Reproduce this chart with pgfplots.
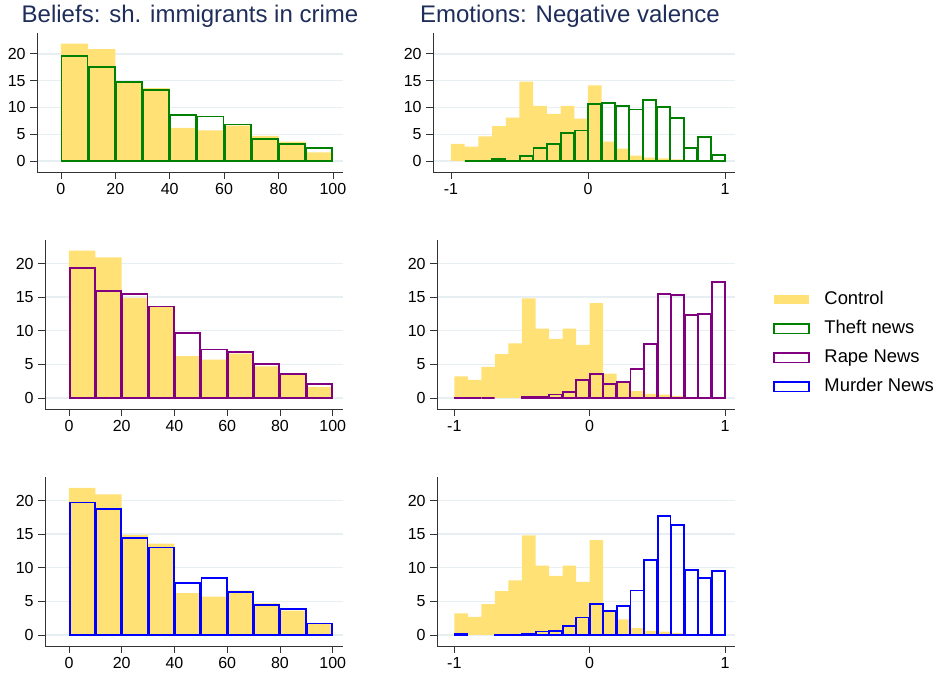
\documentclass[border=0pt]{standalone}
\usepackage{fontspec}
\setmainfont{Liberation Sans}
\usepackage{pgfplots}
\pgfplotsset{compat=1.18}
\usepackage{pgfplotstable}

\definecolor{ctrl}{RGB}{255,225,117}
\definecolor{theft}{RGB}{0,128,0}
\definecolor{rape}{RGB}{128,0,128}
\definecolor{murder}{RGB}{0,0,255}
\definecolor{gridc}{RGB}{232,239,243}
\definecolor{titlec}{RGB}{30,45,90}

% beliefs: share of immigrants in crime, bins of 10
\pgfplotstableread{
x  ctrl theft rape murder
5  21.9 19.6 19.3 19.7
15 20.9 17.6 15.9 18.7
25 14.9 14.7 15.4 14.4
35 13.6 13.3 13.6 13.0
45 6.2  8.6  9.6  7.7
55 5.7  8.3  7.2  8.5
65 6.6  6.8  6.8  6.4
75 4.7  4.1  5.1  4.4
85 3.6  3.2  3.6  3.9
95 1.6  2.4  2.1  1.7
}\lefttab

% emotions: negative valence, bins of 0.1
\pgfplotstableread{
x     ctrl theft rape murder
-0.95 3.2  nan   0.05 0.1
-0.85 2.7  0     0    nan
-0.75 4.6  0.05  0    nan
-0.65 6.5  0.3   nan  0.05
-0.55 8.1  0.05  nan  0
-0.45 14.8 1.0   0.1  0.2
-0.35 10.3 2.4   0.1  0.5
-0.25 8.8  3.2   0.5  0.6
-0.15 10.3 5.3   0.85 1.3
-0.05 7.9  5.7   2.7  2.6
0.05  14.1 10.7  3.6  4.6
0.15  3.6  10.9  2.1  3.6
0.25  2.3  10.2  2.4  4.3
0.35  1.0  9.6   4.3  6.6
0.45  0.6  11.4  8.0  11.2
0.55  0.5  10.1  15.4 17.7
0.65  0.3  8.1   15.3 16.4
0.75  0.05 2.5   12.3 9.6
0.85  nan  4.5   12.5 8.5
0.95  nan  1.1   17.2 9.5
}\righttab

\pgfplotsset{
  panel/.style={
    scale only axis,
    axis x line*=bottom, axis y line*=left,
    axis line style={black!80, line width=0.6pt},
    tick align=outside, major tick length=5pt,
    tick style={black!80, line width=0.6pt},
    ymajorgrids, grid style={gridc, line width=1pt},
    ytick={0,5,10,15,20}, yticklabels={0,5,10,15,20},
    tick label style={font=\fontsize{12}{14}\selectfont},
    ybar, bar shift=0pt,
  },
  lpanel/.style={panel, xtick={0,20,...,100}, xticklabels={0,20,40,60,80,100}, bar width=10},
  rpanel/.style={panel, xtick={-1,0,1}, xticklabels={-1,0,1}, bar width=0.1},
  ctrlbar/.style={fill=ctrl, draw=none},
  outbar/.style={fill=none, draw=#1, line width=1.4pt},
  lout/.style={outbar=#1, bar width=9.55},
  rout/.style={outbar=#1, bar width=0.0955},
}

\begin{document}
\begin{tikzpicture}
\path[use as bounding box] (0,0) rectangle (701.25pt,505.5pt);

\node[anchor=base, text=titlec, font=\fontsize{18}{21}\selectfont] at (142.5pt,488.25pt) {Beliefs: sh. immigrants in crime};
\node[anchor=base, text=titlec, font=\fontsize{18}{21}\selectfont] at (427.5pt,488.25pt) {Emotions: Negative valence};

% row 1
\begin{axis}[lpanel, at={(27.75pt,376.5pt)}, anchor=south west,
  width=229.5pt, height=104.25pt, xmin=-8.8, xmax=103.7, ymin=-2.06, ymax=23.9]
  \addplot[ctrlbar] table[x=x, y=ctrl] {\lefttab};
  \addplot[lout=theft] table[x=x, y=theft] {\lefttab};
\end{axis}
\begin{axis}[rpanel, at={(324.75pt,376.5pt)}, anchor=south west,
  width=226.5pt, height=104.25pt, xmin=-1.131, xmax=1.073, ymin=-2.06, ymax=23.9]
  \addplot[ctrlbar] table[x=x, y=ctrl] {\righttab};
  \addplot[rout=theft] table[x=x, y=theft] {\righttab};
\end{axis}

% row 2
\begin{axis}[lpanel, at={(33.75pt,198.75pt)}, anchor=south west,
  width=223.5pt, height=126.75pt, xmin=-9.1, xmax=103.9, ymin=-1.65, ymax=23.5]
  \addplot[ctrlbar] table[x=x, y=ctrl] {\lefttab};
  \addplot[lout=rape] table[x=x, y=rape] {\lefttab};
\end{axis}
\begin{axis}[rpanel, at={(327.75pt,198.75pt)}, anchor=south west,
  width=223.5pt, height=126.75pt, xmin=-1.128, xmax=1.074, ymin=-1.65, ymax=23.5,
  legend style={draw=none, fill=none, at={(1.1275,0.388)}, anchor=west,
    inner sep=0pt, font=\fontsize{13.8}{16}\selectfont, row sep=8.75pt,
    nodes={inner sep=0pt, text height=10pt, text depth=3pt},
    /tikz/every odd column/.append style={column sep=11pt}},
  legend cell align=left,
  legend image code/.code={\path[#1] (0pt,-3.4pt) rectangle (26pt,3.4pt);}]
  \addplot[ctrlbar] table[x=x, y=ctrl] {\righttab};
  \addlegendentry{Control}
  \addlegendimage{outbar=theft}
  \addlegendentry{Theft news}
  \addplot[rout=rape] table[x=x, y=rape] {\righttab};
  \addlegendentry{Rape News}
  \addlegendimage{outbar=murder}
  \addlegendentry{Murder News}
\end{axis}

% row 3
\begin{axis}[lpanel, at={(33.75pt,21pt)}, anchor=south west,
  width=223.5pt, height=126.75pt, xmin=-9.1, xmax=103.9, ymin=-1.65, ymax=23.5]
  \addplot[ctrlbar] table[x=x, y=ctrl] {\lefttab};
  \addplot[lout=murder] table[x=x, y=murder] {\lefttab};
\end{axis}
\begin{axis}[rpanel, at={(327.75pt,21pt)}, anchor=south west,
  width=223.5pt, height=126.75pt, xmin=-1.128, xmax=1.074, ymin=-1.65, ymax=23.5]
  \addplot[ctrlbar] table[x=x, y=ctrl] {\righttab};
  \addplot[rout=murder] table[x=x, y=murder] {\righttab};
\end{axis}
\end{tikzpicture}
\end{document}
